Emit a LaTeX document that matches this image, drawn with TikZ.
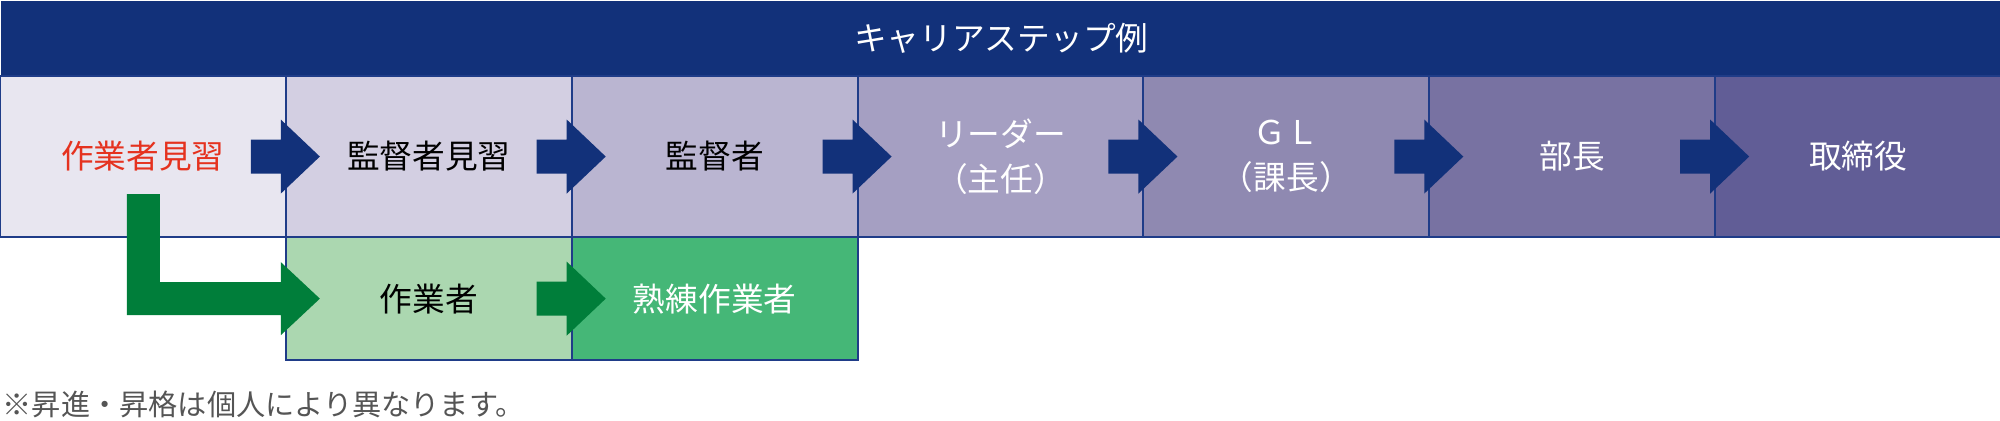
\documentclass[tikz,border=0pt]{standalone}
\usepackage{fontspec}
\newfontfamily\cjk{Noto Sans CJK JP}
\usepackage{tikz}
\usetikzlibrary{
  % enables the ($..$) sums
  calc,%
  positioning
}
\definecolor{navy}{HTML}{12317A}
\definecolor{edgeblue}{HTML}{1F3C88}
\definecolor{stepA}{HTML}{E8E6F0}
\definecolor{stepB}{HTML}{D3CFE2}
\definecolor{stepC}{HTML}{BAB5D1}
\definecolor{stepD}{HTML}{A59FC2}
\definecolor{stepE}{HTML}{8F89B1}
\definecolor{stepF}{HTML}{7872A2}
\definecolor{stepG}{HTML}{615D96}
\definecolor{greenA}{HTML}{ABD7B0}
\definecolor{greenB}{HTML}{45B777}
\definecolor{greenarrow}{HTML}{007E3A}
\definecolor{traineered}{HTML}{E5321F}
\definecolor{notegray}{HTML}{555555}
\tikzset{font=\cjk\fontsize{9.3pt}{12.8pt}\selectfont}
\tikzset{stepbox/.style={draw=edgeblue, line width=0.02cm, outer sep=0pt, inner sep=0pt,
    minimum width=2.857cm, minimum height=1.61cm, align=center}}
% block arrow over the edge on the east side of a box
\newcommand{\stepArrow}[2]{%
  \fill[#2] ($(#1.east)+(-35,17)$) -- ++(30,0) -- ++(0,20) -- ++(39,-37)
    -- ++(-39,-37) -- ++(0,20) -- ++(-30,0) -- cycle;}

\begin{document}
\begin{tikzpicture}[x=0.01cm, y=0.01cm]
  \useasboundingbox (0,0) rectangle (2000,-420);
  \node[fill=navy, text=white, anchor=north west, inner sep=0pt,
    minimum width=20cm, minimum height=0.76cm] (title) at (0,0) {キャリアステップ例};
  % upper row
  \node[stepbox, fill=stepA, text=traineered, anchor=north west] (b1) at (0,-76) {作業者見習};
  \node[stepbox, fill=stepB, right=0pt of b1] (b2) {監督者見習};
  \node[stepbox, fill=stepC, right=0pt of b2] (b3) {監督者};
  \node[stepbox, fill=stepD, text=white, right=0pt of b3] (b4) {リーダー\\（主任）};
  \node[stepbox, fill=stepE, text=white, right=0pt of b4] (b5) {ＧＬ\\（課長）};
  \node[stepbox, fill=stepF, text=white, right=0pt of b5] (b6) {部長};
  \node[stepbox, fill=stepG, text=white, right=0pt of b6] (b7) {取締役};
  % lower row
  \node[stepbox, fill=greenA, minimum height=1.23cm, below=0pt of b2] (w1) {作業者};
  \node[stepbox, fill=greenB, text=white, minimum height=1.23cm, right=0pt of w1] (w2) {熟練作業者};
  \foreach \n in {1,...,6} {\stepArrow{b\n}{navy}}
  \stepArrow{w1}{greenarrow}
  \fill[greenarrow] ($(b1.south)+(-16,43)$) -- ++(33,0) -- ++(0,-88) -- ($(w1.west)+(-5,16.5)$)
    -- ++(0,20) -- ++(39,-36.5) -- ++(-39,-36.5) -- ++(0,20) -- ++(-154,0) -- cycle;
  \node[anchor=west, inner sep=0pt, text=notegray,
    font=\cjk\fontsize{8.3pt}{10pt}\selectfont] (note) at (2,-404) {※昇進・昇格は個人により異なります。};
\end{tikzpicture}
\end{document}
